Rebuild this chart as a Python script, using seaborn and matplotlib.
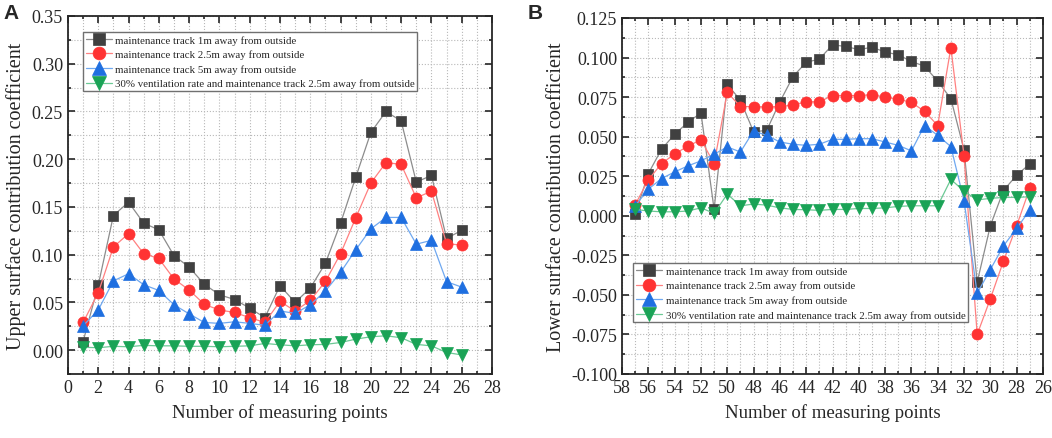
import numpy as np
import pandas as pd
import matplotlib
matplotlib.use("Agg")
import matplotlib.pyplot as plt
from matplotlib.ticker import MultipleLocator
import seaborn as sns

# Panel A data (upper surface), points 1..26
points_a = list(range(1, 27))
upper_1m = [0.009, 0.068, 0.141, 0.155, 0.133, 0.126, 0.099, 0.087, 0.069, 0.058, 0.053, 0.044, 0.034,
            0.0675, 0.050, 0.065, 0.091, 0.133, 0.181, 0.228, 0.250, 0.240, 0.176, 0.183, 0.117, 0.1255]
upper_25m = [0.029, 0.060, 0.108, 0.122, 0.101, 0.096, 0.0745, 0.063, 0.048, 0.042, 0.0395, 0.034, 0.029,
             0.051, 0.041, 0.052, 0.072, 0.101, 0.1385, 0.175, 0.1965, 0.1945, 0.1595, 0.1665, 0.1115, 0.110]
upper_5m = [0.0255, 0.042, 0.0725, 0.080, 0.0685, 0.0625, 0.0475, 0.038, 0.029, 0.028, 0.0297, 0.028, 0.026,
            0.041, 0.0385, 0.0475, 0.062, 0.0815, 0.105, 0.127, 0.139, 0.139, 0.111, 0.115, 0.0717, 0.066]
upper_vent = [0.003, 0.0025, 0.004, 0.0035, 0.005, 0.0045, 0.0045, 0.004, 0.004, 0.0035, 0.004, 0.0045, 0.007,
              0.0056, 0.0045, 0.0056, 0.006, 0.008, 0.0115, 0.014, 0.015, 0.013, 0.006, 0.0045, -0.0025, -0.005]

# Panel B data (lower surface), points 57..27
points_b = list(range(57, 26, -1))
lower_1m = [0.001, 0.0267, 0.042, 0.0515, 0.059, 0.065, 0.004, 0.083, 0.073, 0.053, 0.054, 0.072, 0.088,
            0.097, 0.099, 0.108, 0.107, 0.105, 0.1065, 0.1035, 0.1017, 0.0975, 0.0945, 0.085, 0.074,
            0.0416, -0.042, -0.0063, 0.016, 0.0256, 0.0328]
lower_25m = [0.007, 0.0227, 0.033, 0.039, 0.044, 0.048, 0.033, 0.078, 0.069, 0.069, 0.0687, 0.069, 0.070,
             0.072, 0.072, 0.076, 0.076, 0.076, 0.0765, 0.075, 0.0737, 0.0716, 0.066, 0.057, 0.1063,
             0.0378, -0.075, -0.0525, -0.0286, -0.0063, 0.0174]
lower_5m = [0.0063, 0.0168, 0.0235, 0.0277, 0.0315, 0.0347, 0.0389, 0.0435, 0.0403, 0.0536, 0.0508, 0.0466,
            0.0452, 0.0445, 0.0452, 0.0483, 0.0483, 0.0487, 0.0487, 0.0466, 0.0445, 0.041, 0.057, 0.0508,
            0.0437, 0.0095, -0.049, -0.034, -0.019, -0.008, 0.0036]
lower_vent = [0.004, 0.003, 0.0025, 0.0025, 0.003, 0.005, 0.0015, 0.0137, 0.0063, 0.0074, 0.0067, 0.005,
              0.004, 0.0038, 0.0034, 0.004, 0.004, 0.0046, 0.0046, 0.005, 0.0059, 0.0063, 0.0063, 0.0063,
              0.023, 0.0155, 0.010, 0.011, 0.0116, 0.0116, 0.012]

labels = ["maintenance track 1m away from outside",
          "maintenance track 2.5m away from outside",
          "maintenance track 5m away from outside",
          "30% ventilation rate and maintenance track 2.5m away from outside"]
markers = ["s", "o", "^", "v"]
msizes = [7, 8, 8.5, 8.5]
face_colors = ["#404040", "#ff3333", "#1f6fe0", "#1aa356"]
line_colors = ["#8c8c8c", "#ff8080", "#6fa8f0", "#6cc995"]

sns.set_style("ticks")
plt.rcParams["font.family"] = ["Liberation Serif", "DejaVu Serif"]
plt.rcParams["mathtext.fontset"] = "stix"

fig = plt.figure(figsize=(10.52, 4.39), dpi=100)
ax_a = fig.add_axes([0.0646, 0.1458, 0.4031, 0.8155])
ax_b = fig.add_axes([0.5913, 0.1458, 0.4001, 0.8110])


def draw_panel(ax, x, series):
    for vals, lab, m, ms, fc, lc in zip(series, labels, markers, msizes, face_colors, line_colors):
        df = pd.DataFrame({"x": x, "y": vals})
        sns.lineplot(data=df, x="x", y="y", ax=ax, color=lc, linewidth=0.9, marker=m,
                     markersize=ms, markerfacecolor=fc, markeredgecolor=fc,
                     markeredgewidth=0.5, label=lab, sort=False, legend=False)
    ax.tick_params(which="both", direction="in", top=True, right=True, width=1.2)
    ax.tick_params(which="major", length=5, labelsize=13)
    ax.tick_params(which="minor", length=2.5)
    ax.grid(True, which="both", linestyle=":", color="#b8b8b8", linewidth=0.8)
    ax.set_axisbelow(True)
    for sp in ax.spines.values():
        sp.set_linewidth(1.3)
    ax.set_xlabel("Number of measuring points", fontsize=13.5, labelpad=5)


def add_legend(ax, loc, anchor):
    ax.legend(loc=loc, bbox_to_anchor=anchor, fontsize=7.85, frameon=True,
              fancybox=False, edgecolor="#707070", framealpha=1, borderpad=0.25,
              labelspacing=0.45, handlelength=2.4, handletextpad=0.3, borderaxespad=0,
              markerscale=1.15)


draw_panel(ax_a, points_a, [upper_1m, upper_25m, upper_5m, upper_vent])
ax_a.set_xlim(0, 28)
ax_a.set_ylim(-0.025, 0.35)
ax_a.xaxis.set_major_locator(MultipleLocator(2))
ax_a.xaxis.set_minor_locator(MultipleLocator(1))
ax_a.yaxis.set_major_locator(MultipleLocator(0.05))
ax_a.yaxis.set_minor_locator(MultipleLocator(0.025))
ax_a.yaxis.set_major_formatter(plt.FormatStrFormatter("%.2f"))
ax_a.set_ylabel("Upper surface contribution coefficient", fontsize=14.5, labelpad=4)
add_legend(ax_a, "upper left", (0.035, 0.955))

draw_panel(ax_b, points_b, [lower_1m, lower_25m, lower_5m, lower_vent])
ax_b.set_xlim(58, 26)
ax_b.set_ylim(-0.1, 0.125)
ax_b.xaxis.set_major_locator(MultipleLocator(2))
ax_b.xaxis.set_minor_locator(MultipleLocator(1))
ax_b.yaxis.set_major_locator(MultipleLocator(0.025))
ax_b.yaxis.set_minor_locator(MultipleLocator(0.0125))
ax_b.yaxis.set_major_formatter(plt.FormatStrFormatter("%.3f"))
ax_b.set_ylabel("Lower surface contribution coefficient", fontsize=14.5, labelpad=4)
add_legend(ax_b, "lower left", (0.027, 0.145))

fig.text(0.003, 0.99, "A", fontsize=15, fontweight="bold", family="Liberation Sans", va="top")
fig.text(0.502, 0.99, "B", fontsize=15, fontweight="bold", family="Liberation Sans", va="top")

fig.savefig("out.png", dpi=100)
